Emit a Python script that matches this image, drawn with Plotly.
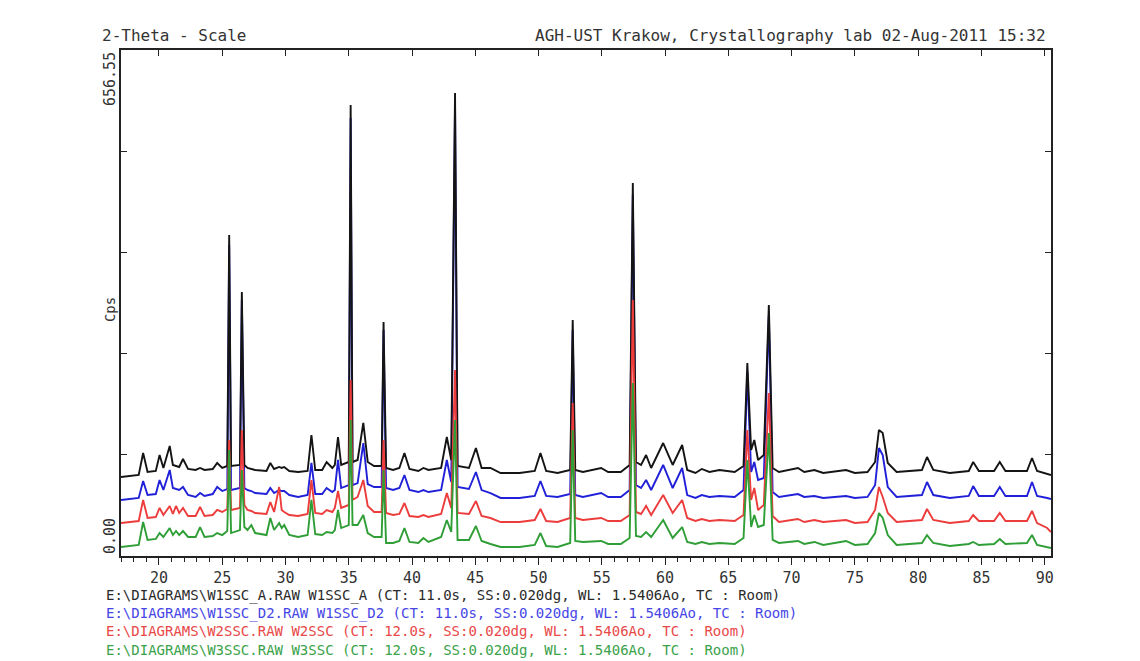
import plotly.graph_objects as go

# ---- data (2-theta in degrees, intensity in Cps as plotted) ----
TWO_THETA = [17.0, 18.4, 18.75, 19.1, 19.75, 20.05, 20.35, 20.85, 21.1, 21.35, 21.6, 21.9, 22.3, 22.9, 23.25, 23.6,
             24.25, 24.6, 25.0, 25.4, 25.55, 25.7, 26.4, 26.55, 26.75, 27.0, 27.3, 27.6, 28.5, 28.8, 29.1, 29.5,
             29.7, 29.9, 30.3, 31.0, 31.75, 32.05, 32.35, 32.9, 33.25, 33.7, 33.9, 34.15, 34.4, 35.0, 35.15, 35.3,
             35.7, 36.15, 36.5, 37.0, 37.6, 37.75, 37.95, 38.5, 39.0, 39.4, 39.8, 40.5, 40.9, 41.3, 42.3, 42.75,
             43.1, 43.4, 43.6, 44.5, 45.05, 45.5, 46.2, 47.0, 48.5, 49.7, 50.15, 50.6, 51.5, 52.5, 52.7, 52.9,
             53.5, 54.95, 55.5, 56.5, 57.2, 57.45, 57.7, 58.1, 58.5, 58.9, 59.85, 60.6, 61.35, 61.75, 62.4, 62.9,
             63.5, 64.3, 65.5, 66.2, 66.5, 66.8, 67.05, 67.35, 67.8, 68.2, 68.5, 69.0, 70.5, 71.0, 71.8, 72.5,
             74.3, 75.0, 76.0, 76.6, 76.9, 77.2, 77.6, 78.3, 80.3, 80.7, 81.2, 82.5, 84.0, 84.35, 84.8, 86.0,
             86.45, 86.9, 88.6, 89.0, 89.4, 90.2, 90.5]

W1SSC_A = [102.5, 105.1, 133.6, 109.0, 110.3, 131.0, 114.2, 142.7, 118.1, 116.8, 115.5, 125.9, 112.9, 111.6, 114.2, 111.6,
           112.9, 120.7, 114.2, 116.8, 416.5, 116.8, 118.1, 342.5, 118.1, 114.2, 112.9, 111.6, 110.3, 120.7, 112.9, 115.5,
           114.2, 115.5, 110.3, 109.0, 110.3, 157.0, 111.6, 111.6, 122.0, 114.2, 118.1, 154.4, 118.1, 122.0, 585.2, 122.0,
           124.6, 172.6, 122.0, 116.8, 116.8, 303.6, 114.2, 111.6, 114.2, 133.6, 112.9, 110.3, 114.2, 111.6, 114.2, 154.4,
           124.6, 600.7, 116.8, 114.2, 140.1, 114.2, 114.2, 107.7, 107.7, 110.3, 133.6, 110.3, 107.7, 111.6, 306.2, 111.6,
           109.0, 114.2, 109.0, 109.0, 118.1, 484.0, 122.0, 118.1, 131.0, 114.2, 146.6, 118.1, 144.0, 111.6, 107.7, 112.9,
           109.0, 111.6, 109.0, 116.8, 250.4, 137.5, 150.5, 124.6, 131.0, 325.7, 114.2, 109.0, 114.2, 109.0, 111.6, 107.7,
           111.6, 107.7, 109.0, 122.0, 163.5, 159.6, 120.7, 109.0, 111.6, 128.5, 111.6, 107.7, 110.3, 122.0, 110.3, 110.3,
           122.0, 110.3, 110.3, 127.2, 110.3, 106.4, 105.1]

W1SSC_D2 = [72.7, 75.3, 97.3, 79.1, 80.4, 98.6, 85.6, 111.6, 88.2, 86.9, 85.6, 89.5, 79.1, 76.6, 81.7, 77.9,
            80.4, 89.5, 84.3, 86.9, 403.5, 85.6, 88.2, 332.2, 88.2, 85.6, 84.3, 81.7, 80.4, 88.2, 81.7, 85.6,
            84.3, 84.3, 79.1, 76.6, 79.1, 120.7, 80.4, 80.4, 88.2, 83.0, 85.6, 124.6, 88.2, 92.1, 568.3, 92.1,
            94.7, 146.6, 93.4, 89.5, 89.5, 293.2, 88.2, 85.6, 88.2, 105.1, 85.6, 83.0, 85.6, 83.0, 85.6, 124.6,
            96.0, 585.2, 89.5, 86.9, 109.0, 85.6, 81.7, 75.3, 75.3, 77.9, 97.3, 77.9, 76.6, 80.4, 293.2, 79.1,
            76.6, 81.7, 76.6, 76.6, 85.6, 468.4, 92.1, 88.2, 98.6, 85.6, 118.1, 88.2, 114.2, 79.1, 75.3, 79.1,
            76.6, 77.9, 76.6, 85.6, 238.7, 109.0, 122.0, 98.6, 101.2, 312.7, 83.0, 76.6, 80.4, 76.6, 77.9, 75.3,
            77.9, 75.3, 76.6, 92.1, 140.1, 131.0, 89.5, 76.6, 79.1, 96.0, 79.1, 75.3, 77.9, 90.8, 77.9, 77.9,
            89.5, 77.9, 77.9, 96.0, 77.9, 75.3, 74.0]

W2SSC = [42.8, 45.4, 72.7, 49.3, 50.6, 62.3, 53.2, 64.9, 54.5, 64.9, 55.8, 62.3, 51.9, 51.9, 63.6, 51.9,
         53.2, 59.7, 57.1, 61.0, 150.5, 59.7, 62.3, 163.5, 66.2, 59.7, 58.4, 55.8, 54.5, 70.1, 57.1, 89.5,
         59.7, 57.1, 53.2, 51.9, 54.5, 98.6, 55.8, 54.5, 59.7, 57.1, 62.3, 84.3, 62.3, 66.2, 228.4, 72.7,
         76.6, 98.6, 64.9, 57.1, 57.1, 150.5, 55.8, 53.2, 54.5, 68.8, 51.9, 50.6, 53.2, 50.6, 54.5, 81.7,
         62.3, 241.3, 55.8, 54.5, 71.4, 51.9, 49.3, 44.1, 44.1, 46.7, 61.0, 45.4, 44.1, 49.3, 198.5, 49.3,
         46.7, 49.3, 45.4, 45.4, 53.2, 332.2, 57.1, 54.5, 64.9, 53.2, 79.1, 55.8, 72.7, 49.3, 45.4, 48.0,
         45.4, 46.7, 45.4, 53.2, 163.5, 72.7, 88.2, 59.7, 66.2, 211.5, 51.9, 44.1, 48.0, 44.1, 46.7, 44.1,
         46.7, 42.8, 44.1, 59.7, 89.5, 76.6, 55.8, 44.1, 46.7, 61.0, 46.7, 42.8, 45.4, 53.2, 45.4, 45.4,
         55.8, 45.4, 45.4, 58.4, 42.8, 36.3, 31.1]

W3SSC = [11.7, 14.3, 44.1, 20.8, 22.1, 29.8, 24.7, 36.3, 27.2, 32.4, 27.2, 32.4, 24.7, 24.7, 37.6, 24.7,
         25.9, 29.8, 27.2, 32.4, 137.5, 29.8, 33.7, 111.6, 37.6, 33.7, 40.2, 29.8, 27.2, 49.3, 33.7, 42.8,
         36.3, 40.2, 27.2, 24.7, 27.2, 72.7, 28.5, 27.2, 31.1, 29.8, 33.7, 59.7, 36.3, 40.2, 176.5, 40.2,
         40.2, 53.2, 29.8, 24.7, 24.7, 111.6, 16.9, 16.9, 19.5, 36.3, 18.2, 16.9, 23.4, 18.2, 24.7, 46.7,
         31.1, 176.5, 20.8, 20.8, 38.9, 19.5, 15.6, 11.7, 11.7, 14.3, 29.8, 13.0, 11.7, 16.9, 163.5, 19.5,
         18.2, 19.5, 15.6, 15.6, 23.4, 224.5, 25.9, 24.7, 31.1, 24.7, 46.7, 23.4, 37.6, 18.2, 15.6, 18.2,
         15.6, 16.9, 15.6, 23.4, 124.6, 37.6, 53.2, 37.6, 40.2, 159.6, 20.8, 16.9, 19.5, 15.6, 18.2, 14.3,
         19.5, 14.3, 15.6, 29.8, 55.8, 49.3, 27.2, 14.3, 16.9, 27.2, 16.9, 13.0, 15.6, 18.2, 14.3, 15.6,
         22.1, 15.6, 16.9, 27.2, 14.3, 11.7, 10.4]

X_TICKS = [20, 25, 30, 35, 40, 45, 50, 55, 60, 65, 70, 75, 80, 85, 90]
Y_MAX = 656.55
Y_TICKS = [0, 131.31, 262.62, 393.93, 525.24, 656.55]

SERIES_NAMES = ["W1SSC_A", "W1SSC_D2", "W2SSC", "W3SSC"]
LEGEND_LINES = [
    r"E:\DIAGRAMS\W1SSC_A.RAW W1SSC_A (CT: 11.0s, SS:0.020dg, WL: 1.5406Ao, TC : Room)",
    r"E:\DIAGRAMS\W1SSC_D2.RAW W1SSC_D2 (CT: 11.0s, SS:0.020dg, WL: 1.5406Ao, TC : Room)",
    r"E:\DIAGRAMS\W2SSC.RAW W2SSC (CT: 12.0s, SS:0.020dg, WL: 1.5406Ao, TC : Room)",
    r"E:\DIAGRAMS\W3SSC.RAW W3SSC (CT: 12.0s, SS:0.020dg, WL: 1.5406Ao, TC : Room)",
]

LINE_COLORS = ["#141414", "#2020d8", "#ec3c3c", "#2f9e36"]
TEXT_COLORS = ["#2a2a2a", "#4646e6", "#e84848", "#3aa24a"]
DRAW_ORDER = [1, 0, 2, 3]   # blue under black, red and green on top
FONT = "DejaVu Sans Mono"

series = [W1SSC_A, W1SSC_D2, W2SSC, W3SSC]
fig = go.Figure()
for i in DRAW_ORDER:
    fig.add_trace(go.Scatter(x=TWO_THETA, y=series[i], mode="lines", name=SERIES_NAMES[i],
                             line=dict(color=LINE_COLORS[i], width=1.9), showlegend=False))

# invisible helper trace so the mirrored (inner-tick) axes are drawn
fig.add_trace(go.Scatter(x=[X_TICKS[0]], y=[0], xaxis="x2", yaxis="y2", mode="markers",
                         marker=dict(opacity=0), showlegend=False, hoverinfo="skip"))

AX = "#222"
fig.update_layout(
    width=1132, height=653,
    margin=dict(l=113, r=89, t=42, b=105),
    paper_bgcolor="white", plot_bgcolor="white",
    font=dict(family=FONT, color="#222"),
    xaxis=dict(range=[17, 90.5], tickvals=X_TICKS, ticks="outside", ticklen=7, tickwidth=1.3,
               tickcolor=AX, showline=True, linecolor=AX, linewidth=1.6, showgrid=False,
               zeroline=False, tickfont=dict(family=FONT, size=15, color="#333"),
               minor=dict(dtick=1, tick0=17, ticks="outside", ticklen=4, tickcolor=AX, tickwidth=1)),
    xaxis2=dict(range=[17, 90.5], overlaying="x", side="top", tickvals=X_TICKS, ticks="inside",
                ticklen=6, tickwidth=1.3, tickcolor=AX, showline=True, linecolor=AX,
                linewidth=1.6, showgrid=False, zeroline=False, showticklabels=False),
    yaxis=dict(range=[0, Y_MAX], tickvals=Y_TICKS, ticks="inside", ticklen=6, tickwidth=1.3,
               tickcolor=AX, showline=True, linecolor=AX, linewidth=1.6, showgrid=False,
               zeroline=False, showticklabels=False),
    yaxis2=dict(range=[0, Y_MAX], overlaying="y", side="right", tickvals=Y_TICKS, ticks="inside",
                ticklen=6, tickwidth=1.3, tickcolor=AX, showline=True, linecolor=AX,
                linewidth=1.6, showgrid=False, zeroline=False, showticklabels=False),
)

ann = []
ann.append(dict(text="2-Theta - Scale", x=-0.0226, y=1.028, xref="paper", yref="paper",
                xanchor="left", yanchor="middle", showarrow=False,
                font=dict(family=FONT, size=16, color="#333")))
ann.append(dict(text="AGH-UST Krakow, Crystallography lab 02-Aug-2011 15:32", x=0.997, y=1.028,
                xref="paper", yref="paper", xanchor="right", yanchor="middle", showarrow=False,
                font=dict(family=FONT, size=16, color="#333")))
ann.append(dict(text=f"{Y_MAX:.2f}", x=-0.0118, y=1.0, xref="paper", yref="paper", textangle=-90,
                xanchor="center", yanchor="top", showarrow=False,
                font=dict(family=FONT, size=15, color="#333")))
ann.append(dict(text=f"{Y_TICKS[0]:.2f}", x=-0.0118, y=0.0, xref="paper", yref="paper", textangle=-90,
                xanchor="center", yanchor="bottom", showarrow=False,
                font=dict(family=FONT, size=15, color="#333")))
ann.append(dict(text="Cps", x=-0.0118, y=0.486, xref="paper", yref="paper", textangle=-90,
                xanchor="center", yanchor="middle", showarrow=False,
                font=dict(family=FONT, size=14, color="#333")))
legend_text = "<br>".join(f'<span style="color:{c}">{t}</span>'
                          for t, c in zip(LEGEND_LINES, TEXT_COLORS))
ann.append(dict(text=legend_text, x=-0.0183, y=-0.058, xref="paper", yref="paper",
                xanchor="left", yanchor="top", align="left", showarrow=False,
                font=dict(family=FONT, size=14, color=TEXT_COLORS[0])))
fig.update_layout(annotations=ann)

fig.write_html("out.html")
